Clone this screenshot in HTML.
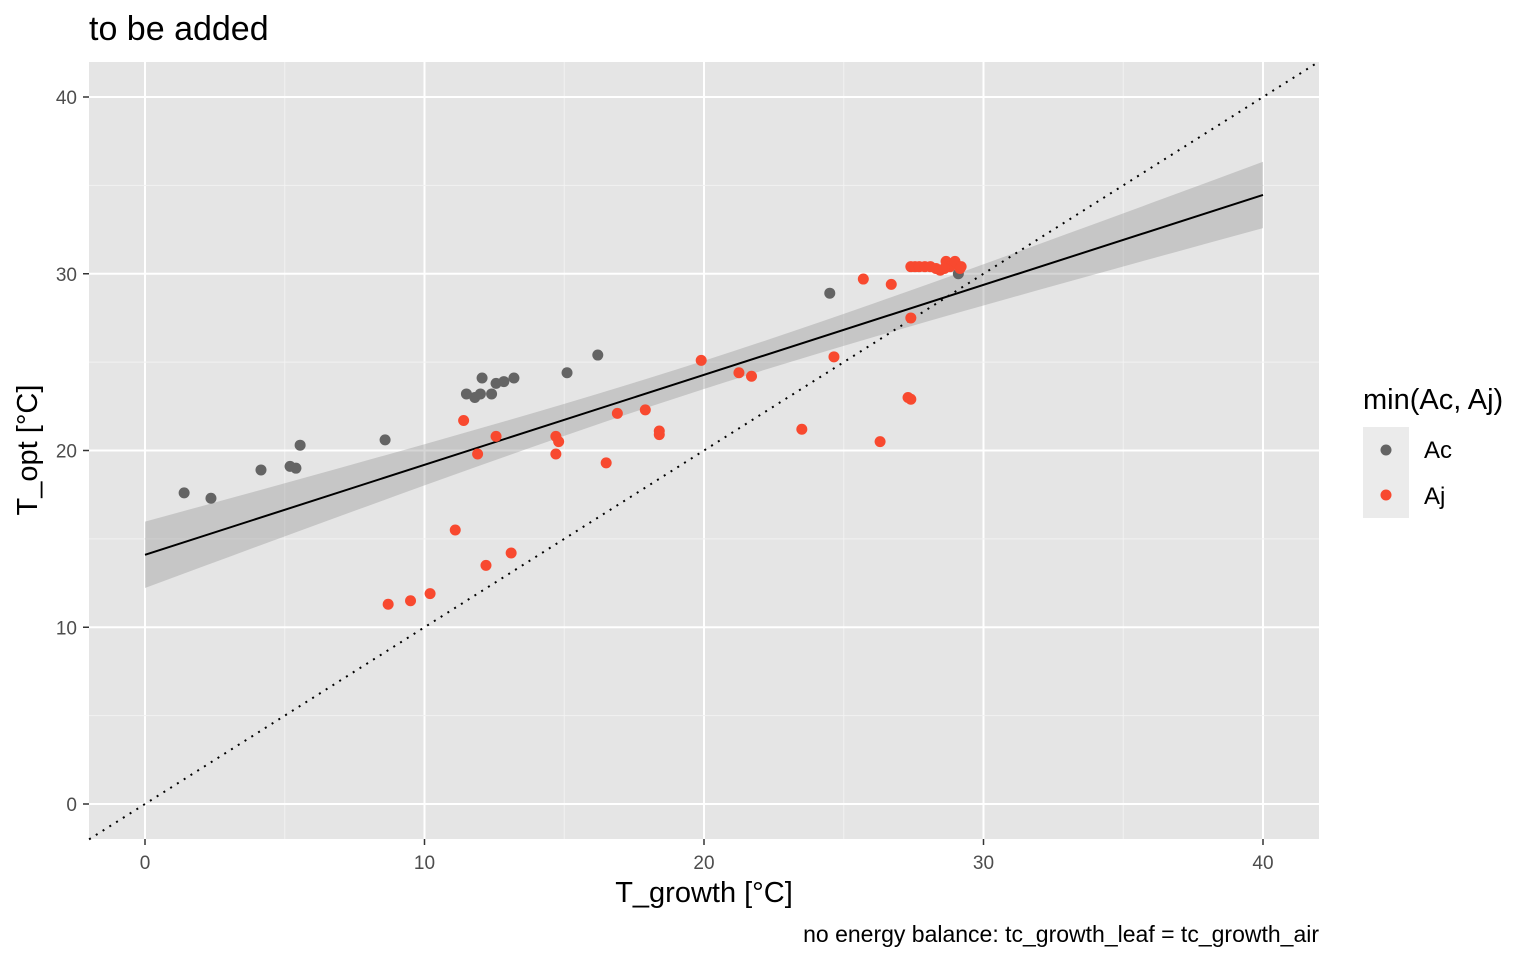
<!DOCTYPE html>
<html><head><meta charset="utf-8"><style>
body{margin:0;background:#fff;font-family:"Liberation Sans",Arial,sans-serif}
</style></head><body>
<svg id="chart" width="1536" height="960" xmlns="http://www.w3.org/2000/svg">
<text x="89" y="40" font-size="34" fill="#000">to be added</text>
<rect x="89" y="62" width="1230" height="777" fill="#e5e5e5"/>
<g id="grid"></g>
<g id="ribbon"></g>
<g id="lines"></g>
<g id="points"></g>
<g id="axes"></g>
<text x="704" y="902" font-size="29" text-anchor="middle" fill="#000">T_growth [°C]</text>
<text transform="translate(37,450) rotate(-90)" font-size="29" text-anchor="middle" fill="#000">T_opt [°C]</text>
<text x="1319" y="942" font-size="23" text-anchor="end" fill="#000">no energy balance: tc_growth_leaf = tc_growth_air</text>
<g>
<text x="1363" y="409" font-size="29" fill="#000">min(Ac, Aj)</text>
<rect x="1363" y="427" width="46" height="91" fill="#ebebeb"/>
<circle cx="1386" cy="450" r="5.5" fill="#646464"/>
<circle cx="1386" cy="495" r="5.5" fill="#f8492f"/>
<text x="1424" y="458" font-size="24" fill="#000">Ac</text>
<text x="1424" y="504" font-size="24" fill="#000">Aj</text>
</g>
</svg>
<script>
const xTicks=[0,10,20,30,40];
const yTicks=[0,10,20,30,40];
const acX=[1.4,2.36,4.15,5.19,5.4,5.55,8.59,11.5,11.8,12.0,12.06,12.4,12.56,12.84,13.2,15.1,16.2,24.5,29.1];
const acY=[17.6,17.3,18.9,19.1,19.0,20.3,20.6,23.2,23.0,23.2,24.1,23.2,23.8,23.9,24.1,24.4,25.4,28.9,30.0];
const ajX=[8.7,9.5,10.2,11.1,11.4,11.9,12.2,12.56,13.1,14.7,14.8,14.7,16.5,16.9,17.9,18.4,18.4,19.9,21.25,21.7,23.5,24.65,25.7,26.3,26.7,27.3,27.4,27.4,27.4,27.55,27.7,27.9,28.1,28.3,28.45,28.66,28.8,28.98,29.16,29.2,28.6];
const ajY=[11.3,11.5,11.9,15.5,21.7,19.8,13.5,20.8,14.2,20.8,20.5,19.8,19.3,22.1,22.3,21.1,20.9,25.1,24.4,24.2,21.2,25.3,29.7,20.5,29.4,23.0,22.9,27.5,30.4,30.4,30.4,30.4,30.4,30.3,30.2,30.7,30.4,30.7,30.3,30.4,30.3];
const fitIntercept=14.1, fitSlope=0.509, fitCenter=20, fitMinHalf=0.8, fitSpread=0.0072;
const X=v=>145+v*27.95, Y=v=>804-v*17.675;
const NS="http://www.w3.org/2000/svg";
function mk(tag,attrs,parent){const e=document.createElementNS(NS,tag);for(const k in attrs)e.setAttribute(k,attrs[k]);document.getElementById(parent).appendChild(e);return e;}
for(let i=0;i<xTicks.length;i++){
 if(X(xTicks[i]+5)<1319){const m=mk('line',{x1:X(xTicks[i]+5),x2:X(xTicks[i]+5),y1:62,y2:839,stroke:'#f2f2f2','stroke-width':1},'grid');
 }
 const l=mk('line',{x1:X(xTicks[i]),x2:X(xTicks[i]),y1:62,y2:839,stroke:'#fff','stroke-width':2},'grid');
 
 const t=mk('text',{x:X(xTicks[i]),y:869,'font-size':19,'text-anchor':'middle',fill:'#4d4d4d'},'axes');t.textContent=xTicks[i];
 
 mk('line',{x1:X(xTicks[i]),x2:X(xTicks[i]),y1:839,y2:845,stroke:'#333','stroke-width':1.5},'axes');
}
for(let i=0;i<yTicks.length;i++){
 if(Y(yTicks[i]+5)>62){const m=mk('line',{x1:89,x2:1319,y1:Y(yTicks[i]+5),y2:Y(yTicks[i]+5),stroke:'#f2f2f2','stroke-width':1},'grid');
 }
 const l=mk('line',{x1:89,x2:1319,y1:Y(yTicks[i]),y2:Y(yTicks[i]),stroke:'#fff','stroke-width':2},'grid');
 
 const t=mk('text',{x:77,y:Y(yTicks[i])+7,'font-size':19,'text-anchor':'end',fill:'#4d4d4d'},'axes');t.textContent=yTicks[i];
 
 mk('line',{x1:83,x2:89,y1:Y(yTicks[i]),y2:Y(yTicks[i]),stroke:'#333','stroke-width':1.5},'axes');
}
let up=[],dn=[];
for(let v=0;v<=40;v+=1){const c=fitIntercept+fitSlope*v,h=Math.sqrt(fitMinHalf*fitMinHalf+fitSpread*(v-fitCenter)**2);
 up.push(X(v)+','+Y(c+h));dn.unshift(X(v)+','+Y(c-h));}
const rb=mk('polygon',{points:up.concat(dn).join(' '),fill:'#999','fill-opacity':0.4},'ribbon');

const d=mk('line',{x1:X(-2),y1:Y(-2),x2:X(42),y2:Y(42),stroke:'#000','stroke-width':2,'stroke-dasharray':'2,6'},'lines');

const f=mk('line',{x1:X(0),y1:Y(fitIntercept),x2:X(40),y2:Y(fitIntercept+fitSlope*40),stroke:'#000','stroke-width':2},'lines');

for(let i=0;i<acX.length;i++){const c=mk('circle',{cx:X(acX[i]),cy:Y(acY[i]),r:5.5,fill:'#646464'},'points');
 }
for(let i=0;i<ajX.length;i++){const c=mk('circle',{cx:X(ajX[i]),cy:Y(ajY[i]),r:5.5,fill:'#f8492f'},'points');
 }
</script>
</body></html>
